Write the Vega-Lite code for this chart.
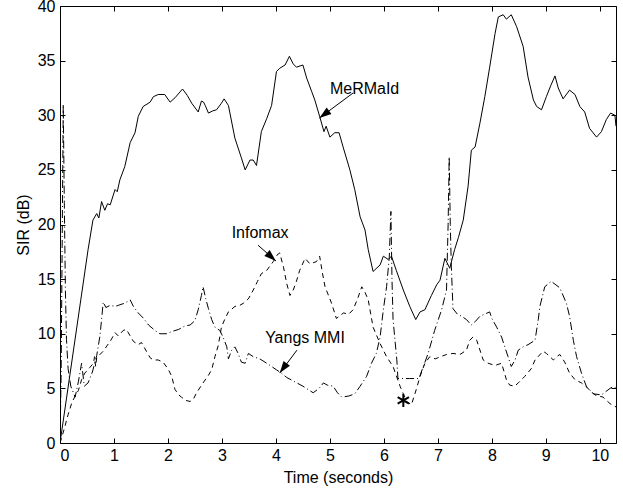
{
  "$schema": "https://vega.github.io/schema/vega-lite/v6.json",
  "width": 556,
  "height": 437,
  "autosize": "none",
  "padding": {"left": 60, "top": 6, "right": 7, "bottom": 51},
  "background": "white",
  "config": {
    "view": {"stroke": "black", "strokeWidth": 1},
    "axis": {
      "domain": false,
      "grid": false,
      "tickColor": "black",
      "tickSize": -5,
      "labelFont": "Liberation Sans",
      "labelFontSize": 16,
      "labelColor": "black",
      "titleFont": "Liberation Sans",
      "titleFontSize": 16,
      "titleFontWeight": "normal",
      "titleColor": "black"
    },
    "text": {"font": "Liberation Sans", "fontSize": 16, "color": "black"}
  },
  "datasets": {
    "mermaid": [
      {"t":0,"v":0},{"t":0.52,"v":17.7},{"t":0.61,"v":20.4},{"t":0.68,"v":21},{"t":0.72,"v":20.6},{"t":0.77,"v":22.1},{"t":0.83,"v":21.3},{"t":0.88,"v":21.9},{"t":0.93,"v":21.8},{"t":1.02,"v":23.2},{"t":1.06,"v":23.0},{"t":1.11,"v":24.1},{"t":1.2,"v":25.3},{"t":1.3,"v":27.5},{"t":1.39,"v":28.4},{"t":1.45,"v":29.9},{"t":1.54,"v":30.8},{"t":1.67,"v":31.2},{"t":1.73,"v":31.7},{"t":1.82,"v":31.9},{"t":1.94,"v":31.9},{"t":2.04,"v":31.2},{"t":2.13,"v":31.6},{"t":2.27,"v":32.4},{"t":2.36,"v":31.8},{"t":2.44,"v":31.1},{"t":2.56,"v":30.3},{"t":2.62,"v":31.3},{"t":2.66,"v":31.2},{"t":2.69,"v":30.9},{"t":2.75,"v":30.2},{"t":2.83,"v":30.4},{"t":2.9,"v":30.5},{"t":2.99,"v":31.1},{"t":3.04,"v":31.5},{"t":3.12,"v":30.9},{"t":3.24,"v":27.9},{"t":3.36,"v":26.1},{"t":3.43,"v":25.0},{"t":3.52,"v":25.9},{"t":3.58,"v":25.9},{"t":3.64,"v":25.4},{"t":3.73,"v":28.5},{"t":3.83,"v":29.7},{"t":3.92,"v":30.9},{"t":4.01,"v":34.0},{"t":4.07,"v":34.3},{"t":4.17,"v":34.6},{"t":4.25,"v":35.4},{"t":4.32,"v":34.7},{"t":4.38,"v":34.4},{"t":4.5,"v":34.6},{"t":4.57,"v":33.4},{"t":4.66,"v":32.2},{"t":4.72,"v":31.4},{"t":4.81,"v":29.9},{"t":4.89,"v":28.5},{"t":4.93,"v":29.0},{"t":5.0,"v":28.0},{"t":5.09,"v":28.4},{"t":5.17,"v":28.4},{"t":5.25,"v":27.0},{"t":5.37,"v":25.0},{"t":5.46,"v":23.2},{"t":5.56,"v":20.7},{"t":5.65,"v":19.5},{"t":5.71,"v":17.7},{"t":5.8,"v":15.7},{"t":5.93,"v":16.3},{"t":5.99,"v":17.1},{"t":6.08,"v":16.8},{"t":6.14,"v":17.1},{"t":6.23,"v":15.8},{"t":6.36,"v":14.0},{"t":6.48,"v":12.5},{"t":6.59,"v":11.3},{"t":6.67,"v":12.0},{"t":6.76,"v":12.2},{"t":6.88,"v":13.5},{"t":6.98,"v":14.5},{"t":7.04,"v":14.9},{"t":7.13,"v":16.9},{"t":7.22,"v":16.0},{"t":7.31,"v":17.7},{"t":7.38,"v":18.8},{"t":7.47,"v":20.4},{"t":7.56,"v":23.5},{"t":7.62,"v":26.8},{"t":7.69,"v":27.1},{"t":7.78,"v":29.3},{"t":7.87,"v":31.7},{"t":7.96,"v":34.4},{"t":8.06,"v":37.5},{"t":8.12,"v":39.0},{"t":8.21,"v":39.2},{"t":8.27,"v":38.8},{"t":8.36,"v":39.2},{"t":8.46,"v":38.1},{"t":8.58,"v":36.3},{"t":8.67,"v":33.5},{"t":8.77,"v":31.4},{"t":8.83,"v":30.8},{"t":8.92,"v":30.5},{"t":9.01,"v":31.7},{"t":9.09,"v":32.7},{"t":9.17,"v":33.6},{"t":9.23,"v":32.5},{"t":9.32,"v":31.5},{"t":9.44,"v":32.3},{"t":9.54,"v":31.9},{"t":9.63,"v":30.8},{"t":9.72,"v":30.3},{"t":9.81,"v":28.8},{"t":9.94,"v":28.0},{"t":10.03,"v":28.5},{"t":10.12,"v":29.6},{"t":10.2,"v":30.2},{"t":10.28,"v":30.0},{"t":10.3,"v":29.0}
    ],
    "infomax": [
      {"t":0,"v":0},{"t":0.05,"v":0.8},{"t":0.09,"v":1.5},{"t":0.15,"v":2.6},{"t":0.22,"v":3.7},{"t":0.28,"v":4.3},{"t":0.34,"v":4.8},{"t":0.4,"v":5.8},{"t":0.46,"v":6.4},{"t":0.55,"v":6.9},{"t":0.62,"v":7.3},{"t":0.64,"v":7.9},{"t":0.66,"v":7.0},{"t":0.68,"v":7.8},{"t":0.72,"v":8.0},{"t":0.8,"v":8.4},{"t":0.87,"v":8.9},{"t":0.93,"v":9.3},{"t":1.02,"v":10.1},{"t":1.08,"v":9.8},{"t":1.17,"v":10.3},{"t":1.23,"v":10.4},{"t":1.3,"v":9.8},{"t":1.36,"v":9.3},{"t":1.45,"v":9.0},{"t":1.51,"v":9.2},{"t":1.6,"v":8.4},{"t":1.67,"v":7.8},{"t":1.73,"v":7.6},{"t":1.82,"v":7.6},{"t":1.91,"v":7.4},{"t":2.0,"v":6.8},{"t":2.07,"v":6.1},{"t":2.13,"v":4.9},{"t":2.2,"v":4.4},{"t":2.25,"v":4.2},{"t":2.33,"v":3.9},{"t":2.41,"v":3.8},{"t":2.47,"v":4.0},{"t":2.53,"v":4.6},{"t":2.65,"v":5.5},{"t":2.75,"v":6.2},{"t":2.81,"v":6.7},{"t":2.87,"v":7.9},{"t":2.93,"v":8.9},{"t":2.96,"v":9.7},{"t":2.99,"v":10.6},{"t":3.05,"v":11.3},{"t":3.12,"v":12.0},{"t":3.24,"v":12.5},{"t":3.33,"v":12.6},{"t":3.4,"v":12.8},{"t":3.49,"v":13.2},{"t":3.58,"v":14.0},{"t":3.66,"v":14.8},{"t":3.73,"v":15.5},{"t":3.83,"v":15.8},{"t":3.95,"v":16.6},{"t":4.02,"v":17.2},{"t":4.07,"v":17.4},{"t":4.14,"v":16.1},{"t":4.2,"v":14.6},{"t":4.26,"v":13.5},{"t":4.32,"v":14.0},{"t":4.38,"v":14.8},{"t":4.44,"v":15.8},{"t":4.54,"v":16.9},{"t":4.63,"v":16.4},{"t":4.75,"v":16.6},{"t":4.81,"v":17.1},{"t":4.86,"v":15.6},{"t":4.91,"v":14.3},{"t":5.03,"v":12.8},{"t":5.12,"v":11.4},{"t":5.25,"v":11.9},{"t":5.35,"v":11.8},{"t":5.43,"v":12.2},{"t":5.52,"v":13.3},{"t":5.59,"v":14.3},{"t":5.65,"v":13.8},{"t":5.71,"v":13.1},{"t":5.8,"v":10.6},{"t":5.93,"v":9.1},{"t":6.05,"v":7.9},{"t":6.17,"v":7.0},{"t":6.3,"v":5.2},{"t":6.42,"v":3.8},{"t":6.51,"v":3.5},{"t":6.6,"v":4.9},{"t":6.67,"v":6.1},{"t":6.76,"v":7.3},{"t":6.85,"v":7.9},{"t":6.95,"v":7.7},{"t":7.05,"v":7.9},{"t":7.16,"v":8.1},{"t":7.28,"v":8.2},{"t":7.41,"v":8.1},{"t":7.53,"v":8.5},{"t":7.59,"v":9.4},{"t":7.65,"v":9.7},{"t":7.72,"v":9.4},{"t":7.84,"v":7.6},{"t":7.93,"v":7.3},{"t":8.06,"v":7.1},{"t":8.18,"v":7.3},{"t":8.27,"v":5.8},{"t":8.33,"v":5.3},{"t":8.42,"v":5.2},{"t":8.49,"v":5.5},{"t":8.61,"v":6.1},{"t":8.73,"v":6.8},{"t":8.8,"v":7.6},{"t":8.95,"v":8.4},{"t":9.01,"v":8.2},{"t":9.14,"v":7.6},{"t":9.2,"v":7.9},{"t":9.26,"v":8.1},{"t":9.35,"v":7.4},{"t":9.44,"v":6.4},{"t":9.54,"v":5.8},{"t":9.66,"v":5.5},{"t":9.78,"v":5.0},{"t":9.91,"v":4.4},{"t":10.06,"v":4.2},{"t":10.19,"v":3.6},{"t":10.3,"v":3.3}
    ],
    "yang": [
      {"t":0,"v":0},{"t":0.02,"v":6},{"t":0.04,"v":18},{"t":0.06,"v":31},{"t":0.08,"v":22},{"t":0.1,"v":14},{"t":0.12,"v":9.5},{"t":0.15,"v":6.8},{"t":0.2,"v":5.2},{"t":0.28,"v":4.2},{"t":0.34,"v":5.6},{"t":0.4,"v":7.3},{"t":0.45,"v":5.2},{"t":0.52,"v":5.5},{"t":0.6,"v":6.5},{"t":0.68,"v":8.0},{"t":0.74,"v":9.8},{"t":0.78,"v":11.8},{"t":0.8,"v":12.9},{"t":0.85,"v":12.4},{"t":0.93,"v":12.6},{"t":1.02,"v":12.5},{"t":1.08,"v":12.6},{"t":1.2,"v":12.8},{"t":1.3,"v":13.1},{"t":1.36,"v":12.5},{"t":1.45,"v":11.9},{"t":1.55,"v":11.4},{"t":1.64,"v":10.8},{"t":1.76,"v":10.3},{"t":1.85,"v":10.0},{"t":1.98,"v":10.0},{"t":2.07,"v":10.2},{"t":2.2,"v":10.4},{"t":2.31,"v":10.7},{"t":2.41,"v":10.8},{"t":2.5,"v":11.2},{"t":2.56,"v":12.2},{"t":2.62,"v":13.5},{"t":2.65,"v":14.3},{"t":2.7,"v":13.2},{"t":2.75,"v":12.3},{"t":2.81,"v":11.3},{"t":2.87,"v":10.6},{"t":2.96,"v":10.3},{"t":3.02,"v":9.7},{"t":3.09,"v":8.8},{"t":3.12,"v":7.7},{"t":3.18,"v":8.5},{"t":3.24,"v":8.8},{"t":3.3,"v":8.2},{"t":3.36,"v":7.4},{"t":3.43,"v":7.3},{"t":3.49,"v":8.2},{"t":3.58,"v":7.9},{"t":3.7,"v":7.7},{"t":3.83,"v":7.3},{"t":4.01,"v":6.7},{"t":4.1,"v":6.4},{"t":4.2,"v":6.0},{"t":4.35,"v":5.6},{"t":4.5,"v":5.2},{"t":4.69,"v":4.6},{"t":4.8,"v":5.0},{"t":4.88,"v":5.5},{"t":4.95,"v":5.3},{"t":5.06,"v":5.2},{"t":5.14,"v":4.6},{"t":5.22,"v":4.2},{"t":5.35,"v":4.3},{"t":5.46,"v":4.5},{"t":5.56,"v":5.2},{"t":5.68,"v":6.1},{"t":5.77,"v":7.3},{"t":5.86,"v":8.2},{"t":5.93,"v":9.7},{"t":5.99,"v":12.2},{"t":6.05,"v":14.3},{"t":6.1,"v":17.0},{"t":6.13,"v":21.2},{"t":6.15,"v":15.0},{"t":6.17,"v":11.3},{"t":6.2,"v":9.7},{"t":6.24,"v":7.6},{"t":6.26,"v":5.9},{"t":6.48,"v":5.9},{"t":6.65,"v":5.9},{"t":6.73,"v":7.0},{"t":6.82,"v":8.2},{"t":6.94,"v":10.3},{"t":7.07,"v":12.2},{"t":7.16,"v":14.0},{"t":7.19,"v":20.0},{"t":7.21,"v":26.2},{"t":7.23,"v":20.0},{"t":7.25,"v":16.1},{"t":7.28,"v":12.3},{"t":7.36,"v":11.8},{"t":7.44,"v":11.6},{"t":7.53,"v":11.3},{"t":7.62,"v":10.8},{"t":7.69,"v":11.1},{"t":7.78,"v":11.6},{"t":7.96,"v":12.0},{"t":8.0,"v":11.4},{"t":8.09,"v":10.6},{"t":8.18,"v":9.7},{"t":8.3,"v":7.9},{"t":8.36,"v":7.0},{"t":8.43,"v":7.6},{"t":8.49,"v":8.5},{"t":8.58,"v":8.8},{"t":8.67,"v":9.0},{"t":8.8,"v":9.4},{"t":8.86,"v":11.3},{"t":8.89,"v":12.5},{"t":8.98,"v":14.3},{"t":9.1,"v":14.8},{"t":9.26,"v":14.2},{"t":9.38,"v":12.8},{"t":9.44,"v":11.6},{"t":9.51,"v":9.4},{"t":9.57,"v":7.9},{"t":9.66,"v":6.4},{"t":9.75,"v":5.2},{"t":9.88,"v":4.5},{"t":10.03,"v":4.4},{"t":10.19,"v":5.0},{"t":10.26,"v":5.2},{"t":10.3,"v":5.0}
    ],
    "labels": [
      {"name":"MeRMaId","t":5.0,"v":32.4},
      {"name":"Infomax","t":3.18,"v":19.2},
      {"name":"Yangs MMI","t":3.8,"v":9.6}
    ],
    "arrows": [
      {"name":"MeRMaId","t":5.43,"v":32.04,"t2":4.806,"v2":29.75,"dir":233},
      {"name":"Infomax","t":3.67,"v":18.1,"t2":4.0,"v2":16.66,"dir":132},
      {"name":"Yangs MMI","t":4.39,"v":8.5,"t2":4.07,"v2":6.4,"dir":216}
    ],
    "star": [{"t":6.36,"v":3.9}]
  },
  "resolve": {"axis": {"x": "independent", "y": "independent"}},
  "layer": [
    {
      "data": {"name": "mermaid"},
      "mark": {"type": "line", "color": "black", "strokeWidth": 1, "clip": true},
      "encoding": {
        "x": {"field": "t", "type": "quantitative", "scale": {"domain": [0, 10.3], "nice": false, "zero": false},
              "axis": {"orient": "bottom", "values": [0,1,2,3,4,5,6,7,8,9,10], "title": "Time (seconds)", "labelPadding": 9, "titlePadding": 6}},
        "y": {"field": "v", "type": "quantitative", "scale": {"domain": [0, 40], "nice": false},
              "axis": {"orient": "left", "values": [0,5,10,15,20,25,30,35,40], "title": "SIR (dB)", "labelPadding": 10, "titlePadding": 6}}
      }
    },
    {
      "data": {"name": "mermaid"},
      "mark": {"type": "line", "opacity": 0},
      "encoding": {
        "x": {"field": "t", "type": "quantitative", "axis": {"orient": "top", "values": [0,1,2,3,4,5,6,7,8,9,10], "labels": false, "title": null}},
        "y": {"field": "v", "type": "quantitative", "axis": {"orient": "right", "values": [0,5,10,15,20,25,30,35,40], "labels": false, "title": null}}
      }
    },
    {
      "data": {"name": "infomax"},
      "mark": {"type": "line", "color": "black", "strokeWidth": 1, "strokeDash": [5, 4], "clip": true},
      "encoding": {
        "x": {"field": "t", "type": "quantitative", "axis": null},
        "y": {"field": "v", "type": "quantitative", "axis": null}
      }
    },
    {
      "data": {"name": "yang"},
      "mark": {"type": "line", "color": "black", "strokeWidth": 1, "strokeDash": [8, 3, 1, 3], "clip": true},
      "encoding": {
        "x": {"field": "t", "type": "quantitative", "axis": null},
        "y": {"field": "v", "type": "quantitative", "axis": null}
      }
    },
    {
      "data": {"name": "labels"},
      "mark": {"type": "text", "align": "left", "baseline": "middle"},
      "encoding": {
        "x": {"field": "t", "type": "quantitative", "axis": null},
        "y": {"field": "v", "type": "quantitative", "axis": null},
        "text": {"field": "name"}
      }
    },
    {
      "data": {"name": "arrows"},
      "mark": {"type": "rule", "color": "black", "strokeWidth": 1},
      "encoding": {
        "x": {"field": "t", "type": "quantitative", "axis": null},
        "y": {"field": "v", "type": "quantitative", "axis": null},
        "x2": {"field": "t2"},
        "y2": {"field": "v2"}
      }
    },
    {
      "data": {"name": "arrows"},
      "mark": {"type": "point", "shape": "M0,0L0.33,1L-0.33,1Z", "filled": true, "color": "black", "opacity": 1, "size": 576, "strokeWidth": 0},
      "encoding": {
        "x": {"field": "t2", "type": "quantitative", "axis": null},
        "y": {"field": "v2", "type": "quantitative", "axis": null},
        "angle": {"field": "dir", "type": "quantitative", "scale": null}
      }
    },
    {
      "data": {"name": "star"},
      "mark": {"type": "point", "shape": "M0,-1L0,1M-0.87,-0.5L0.87,0.5M-0.87,0.5L0.87,-0.5", "filled": false, "color": "black", "opacity": 1, "size": 169, "strokeWidth": 2},
      "encoding": {
        "x": {"field": "t", "type": "quantitative", "axis": null},
        "y": {"field": "v", "type": "quantitative", "axis": null}
      }
    }
  ]
}
